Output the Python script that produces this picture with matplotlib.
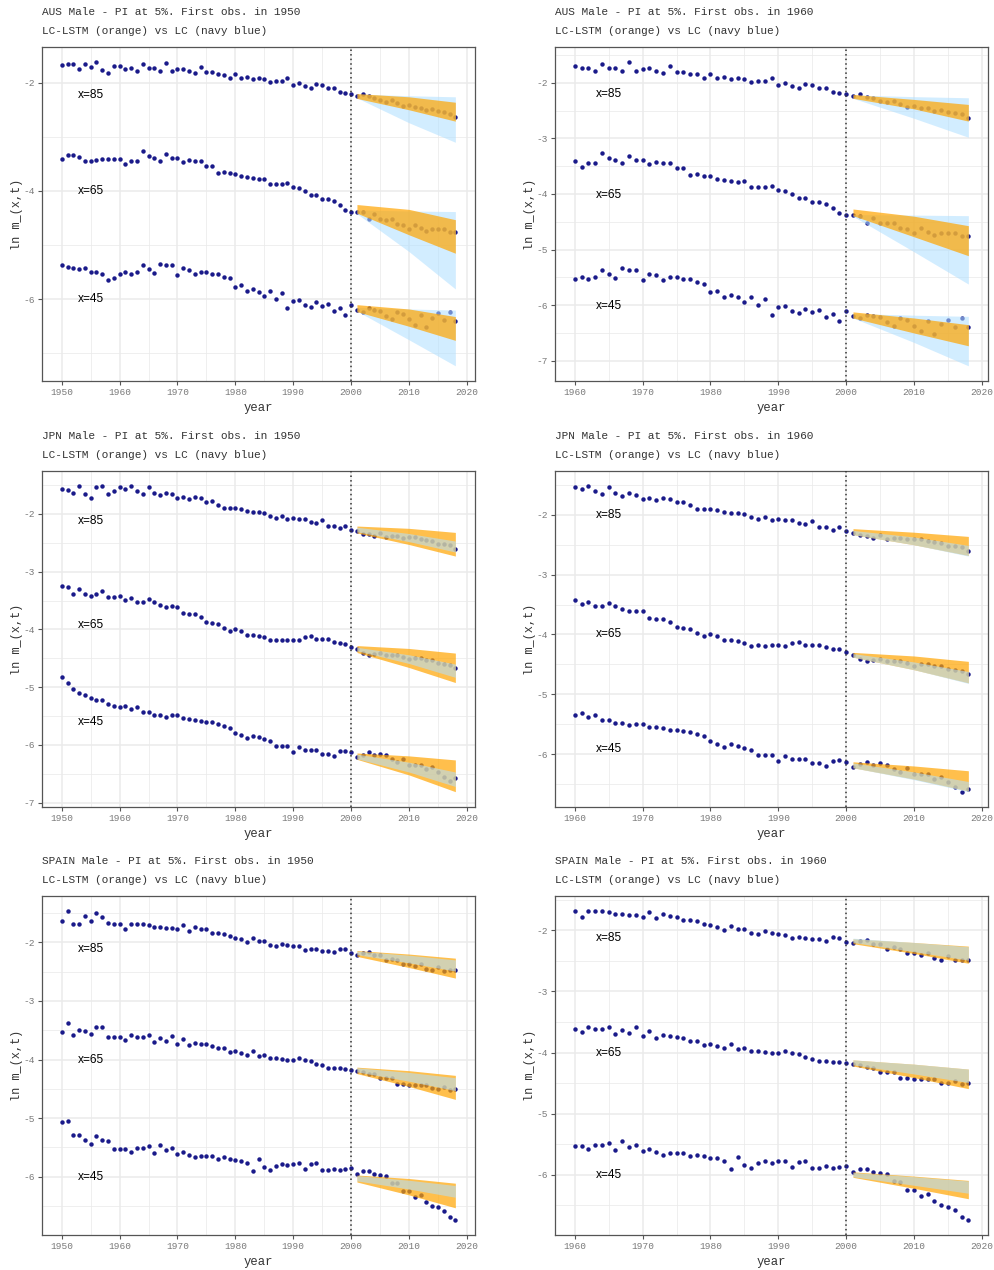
import numpy as np
import matplotlib
matplotlib.use("Agg")
import matplotlib.pyplot as plt
from matplotlib.ticker import MultipleLocator
from matplotlib import font_manager as fm

plt.rcParams['axes.unicode_minus'] = False

def pick(fams):
    for f in fams:
        try:
            fm.findfont(fm.FontProperties(family=f), fallback_to_default=False)
            return f
        except Exception:
            pass
    return 'DejaVu Sans'

MONO = pick(['Liberation Mono', 'DejaVu Sans Mono'])
NARROW = pick(['Liberation Sans Narrow', 'Liberation Sans', 'DejaVu Sans'])
LAB_SIZE = 10.4 if NARROW == 'Liberation Sans Narrow' else 8.6

# ---------------- data ----------------
years = np.arange(1950, 2019)
fc_years = [2001, 2010, 2018]
ages = ['x=85', 'x=65', 'x=45']

aus_85 = [-1.68, -1.65, -1.65, -1.74, -1.66, -1.70, -1.62, -1.76, -1.82, -1.69,
          -1.69, -1.74, -1.73, -1.79, -1.66, -1.73, -1.73, -1.79, -1.63, -1.79,
          -1.75, -1.74, -1.79, -1.82, -1.70, -1.80, -1.80, -1.84, -1.85, -1.91,
          -1.84, -1.92, -1.89, -1.93, -1.91, -1.93, -1.98, -1.96, -1.96, -1.92,
          -2.04, -2.00, -2.06, -2.09, -2.02, -2.04, -2.09, -2.10, -2.17, -2.19,
          -2.21, -2.24, -2.21, -2.25, -2.28, -2.32, -2.35, -2.32, -2.38, -2.43,
          -2.42, -2.45, -2.46, -2.51, -2.49, -2.53, -2.54, -2.57, -2.64]
aus_65 = [-3.41, -3.34, -3.34, -3.38, -3.44, -3.45, -3.42, -3.40, -3.40, -3.40,
          -3.40, -3.51, -3.44, -3.44, -3.26, -3.36, -3.39, -3.44, -3.31, -3.39,
          -3.39, -3.46, -3.43, -3.44, -3.45, -3.54, -3.54, -3.66, -3.64, -3.67,
          -3.68, -3.73, -3.74, -3.76, -3.78, -3.77, -3.87, -3.87, -3.88, -3.85,
          -3.92, -3.95, -4.00, -4.07, -4.07, -4.14, -4.15, -4.18, -4.25, -4.35,
          -4.38, -4.38, -4.39, -4.52, -4.43, -4.52, -4.53, -4.52, -4.61, -4.63,
          -4.71, -4.62, -4.69, -4.74, -4.70, -4.70, -4.70, -4.76, -4.76]
aus_45 = [-5.37, -5.41, -5.43, -5.44, -5.43, -5.49, -5.49, -5.54, -5.65, -5.60,
          -5.53, -5.49, -5.53, -5.50, -5.37, -5.44, -5.51, -5.34, -5.37, -5.37,
          -5.55, -5.43, -5.46, -5.54, -5.49, -5.50, -5.53, -5.53, -5.58, -5.61,
          -5.77, -5.74, -5.85, -5.81, -5.86, -5.94, -5.85, -6.00, -5.89, -6.17,
          -6.03, -6.01, -6.11, -6.14, -6.06, -6.13, -6.08, -6.22, -6.16, -6.29,
          -6.11, -6.20, -6.23, -6.17, -6.20, -6.21, -6.31, -6.37, -6.23, -6.27,
          -6.37, -6.47, -6.29, -6.51, -6.34, -6.26, -6.39, -6.23, -6.40]

jpn_85 = [-1.56, -1.58, -1.63, -1.52, -1.66, -1.73, -1.54, -1.52, -1.66, -1.61,
          -1.53, -1.56, -1.52, -1.60, -1.65, -1.54, -1.64, -1.68, -1.63, -1.66,
          -1.73, -1.71, -1.75, -1.71, -1.73, -1.79, -1.78, -1.84, -1.90, -1.90,
          -1.90, -1.91, -1.95, -1.97, -1.97, -1.99, -2.03, -2.07, -2.03, -2.09,
          -2.07, -2.08, -2.09, -2.14, -2.15, -2.11, -2.21, -2.21, -2.25, -2.21,
          -2.27, -2.30, -2.34, -2.35, -2.39, -2.33, -2.40, -2.39, -2.39, -2.41,
          -2.40, -2.40, -2.43, -2.46, -2.47, -2.52, -2.52, -2.53, -2.60]
jpn_65 = [-3.25, -3.27, -3.38, -3.30, -3.39, -3.43, -3.38, -3.34, -3.44, -3.44,
          -3.42, -3.49, -3.45, -3.52, -3.53, -3.48, -3.53, -3.58, -3.61, -3.60,
          -3.61, -3.72, -3.74, -3.74, -3.79, -3.87, -3.89, -3.91, -3.98, -4.03,
          -3.99, -4.03, -4.09, -4.09, -4.11, -4.14, -4.19, -4.18, -4.19, -4.18,
          -4.18, -4.19, -4.14, -4.12, -4.17, -4.17, -4.17, -4.21, -4.24, -4.25,
          -4.30, -4.34, -4.41, -4.44, -4.43, -4.41, -4.44, -4.44, -4.44, -4.48,
          -4.52, -4.49, -4.49, -4.53, -4.53, -4.58, -4.60, -4.61, -4.66]
jpn_45 = [-4.83, -4.93, -5.03, -5.10, -5.13, -5.19, -5.22, -5.22, -5.30, -5.33,
          -5.34, -5.32, -5.38, -5.35, -5.43, -5.43, -5.48, -5.48, -5.51, -5.49,
          -5.49, -5.54, -5.55, -5.57, -5.59, -5.60, -5.61, -5.63, -5.67, -5.70,
          -5.79, -5.83, -5.88, -5.84, -5.86, -5.90, -5.94, -6.02, -6.02, -6.02,
          -6.12, -6.04, -6.09, -6.08, -6.08, -6.15, -6.15, -6.20, -6.11, -6.10,
          -6.13, -6.21, -6.17, -6.13, -6.18, -6.15, -6.18, -6.25, -6.30, -6.24,
          -6.34, -6.34, -6.34, -6.42, -6.39, -6.47, -6.56, -6.63, -6.58]

spa_85 = [-1.63, -1.47, -1.68, -1.68, -1.55, -1.63, -1.50, -1.57, -1.67, -1.69,
          -1.69, -1.78, -1.69, -1.69, -1.69, -1.70, -1.73, -1.73, -1.75, -1.75,
          -1.78, -1.70, -1.80, -1.73, -1.77, -1.78, -1.84, -1.84, -1.85, -1.89,
          -1.92, -1.95, -2.00, -1.93, -1.98, -1.98, -2.05, -2.06, -2.02, -2.04,
          -2.06, -2.07, -2.13, -2.11, -2.12, -2.14, -2.15, -2.17, -2.11, -2.12,
          -2.19, -2.21, -2.18, -2.16, -2.22, -2.22, -2.30, -2.28, -2.30, -2.37,
          -2.37, -2.40, -2.37, -2.45, -2.48, -2.42, -2.49, -2.48, -2.48]
spa_65 = [-3.53, -3.38, -3.58, -3.50, -3.51, -3.57, -3.45, -3.45, -3.62, -3.62,
          -3.62, -3.67, -3.58, -3.61, -3.61, -3.58, -3.70, -3.63, -3.68, -3.59,
          -3.73, -3.65, -3.76, -3.71, -3.73, -3.74, -3.77, -3.81, -3.81, -3.87,
          -3.86, -3.89, -3.93, -3.86, -3.94, -3.93, -3.97, -3.97, -3.99, -4.00,
          -4.01, -3.98, -4.01, -4.02, -4.07, -4.10, -4.14, -4.14, -4.15, -4.16,
          -4.17, -4.19, -4.21, -4.24, -4.25, -4.32, -4.31, -4.32, -4.42, -4.42,
          -4.43, -4.44, -4.43, -4.44, -4.49, -4.50, -4.47, -4.52, -4.50]
spa_45 = [-5.06, -5.05, -5.29, -5.29, -5.38, -5.44, -5.31, -5.38, -5.39, -5.53,
          -5.52, -5.52, -5.57, -5.51, -5.51, -5.48, -5.59, -5.45, -5.55, -5.51,
          -5.61, -5.57, -5.63, -5.67, -5.65, -5.65, -5.65, -5.69, -5.67, -5.69,
          -5.72, -5.73, -5.77, -5.91, -5.70, -5.84, -5.88, -5.81, -5.78, -5.80,
          -5.78, -5.77, -5.87, -5.79, -5.77, -5.88, -5.88, -5.86, -5.88, -5.87,
          -5.85, -5.96, -5.91, -5.91, -5.96, -5.97, -5.99, -6.10, -6.11, -6.25,
          -6.25, -6.35, -6.31, -6.43, -6.50, -6.52, -6.58, -6.69, -6.73]

# prediction intervals at fc_years, rows = x=85, x=65, x=45
aus50_lstm_hi = [[-2.20, -2.26, -2.36], [-4.25, -4.34, -4.53], [-6.10, -6.18, -6.32]]
aus50_lstm_lo = [[-2.29, -2.50, -2.71], [-4.41, -4.81, -5.15], [-6.23, -6.50, -6.76]]
aus50_lc_hi = [[-2.21, -2.24, -2.26], [-4.35, -4.37, -4.38], [-6.15, -6.18, -6.20]]
aus50_lc_lo = [[-2.28, -2.74, -3.10], [-4.42, -5.12, -5.81], [-6.22, -6.75, -7.23]]

aus60_lstm_hi = [[-2.21, -2.30, -2.39], [-4.27, -4.40, -4.57], [-6.12, -6.23, -6.35]]
aus60_lstm_lo = [[-2.28, -2.47, -2.69], [-4.39, -4.77, -5.11], [-6.23, -6.50, -6.73]]
aus60_lc_hi = [[-2.22, -2.25, -2.27], [-4.37, -4.38, -4.39], [-6.15, -6.18, -6.20]]
aus60_lc_lo = [[-2.28, -2.64, -2.98], [-4.40, -5.04, -5.62], [-6.23, -6.67, -7.09]]

jpn50_lstm_hi = [[-2.21, -2.25, -2.32], [-4.28, -4.33, -4.41], [-6.14, -6.19, -6.26]]
jpn50_lstm_lo = [[-2.33, -2.53, -2.73], [-4.40, -4.66, -4.92], [-6.25, -6.52, -6.81]]
jpn50_lc_hi = [[-2.23, -2.34, -2.47], [-4.31, -4.44, -4.60], [-6.16, -6.30, -6.47]]
jpn50_lc_lo = [[-2.31, -2.48, -2.66], [-4.37, -4.59, -4.83], [-6.24, -6.47, -6.72]]

jpn60_lstm_hi = [[-2.23, -2.29, -2.36], [-4.30, -4.36, -4.45], [-6.13, -6.20, -6.28]]
jpn60_lstm_lo = [[-2.33, -2.50, -2.68], [-4.38, -4.59, -4.81], [-6.23, -6.42, -6.62]]
jpn60_lc_hi = [[-2.26, -2.37, -2.51], [-4.32, -4.46, -4.62], [-6.15, -6.30, -6.46]]
jpn60_lc_lo = [[-2.33, -2.50, -2.69], [-4.38, -4.59, -4.82], [-6.23, -6.43, -6.63]]

spa50_lstm_hi = [[-2.14, -2.20, -2.27], [-4.13, -4.19, -4.27], [-5.97, -6.03, -6.11]]
spa50_lstm_lo = [[-2.24, -2.43, -2.61], [-4.24, -4.46, -4.68], [-6.09, -6.31, -6.53]]
spa50_lc_hi = [[-2.15, -2.22, -2.30], [-4.14, -4.22, -4.31], [-5.98, -6.06, -6.15]]
spa50_lc_lo = [[-2.21, -2.35, -2.49], [-4.21, -4.37, -4.53], [-6.07, -6.21, -6.35]]

spa60_lstm_hi = [[-2.14, -2.20, -2.26], [-4.12, -4.19, -4.27], [-5.95, -6.02, -6.09]]
spa60_lstm_lo = [[-2.22, -2.38, -2.54], [-4.22, -4.41, -4.59], [-6.04, -6.22, -6.39]]
spa60_lc_hi = [[-2.13, -2.20, -2.27], [-4.12, -4.19, -4.27], [-5.96, -6.03, -6.10]]
spa60_lc_lo = [[-2.20, -2.35, -2.49], [-4.20, -4.35, -4.49], [-6.03, -6.17, -6.30]]

# label heights (data units) for "x=.." annotations
aus50_lab_y = [-2.22, -4.00, -6.00]
aus60_lab_y = [-2.21, -4.01, -6.01]
jpn50_lab_y = [-2.12, -3.93, -5.60]
jpn60_lab_y = [-2.01, -4.00, -5.91]
spa50_lab_y = [-2.11, -4.01, -6.00]
spa60_lab_y = [-2.12, -4.00, -6.00]

panels = [
    ('AUS', 1950, (aus_85, aus_65, aus_45), aus50_lstm_lo, aus50_lstm_hi, aus50_lc_lo, aus50_lc_hi, aus50_lab_y, 2),
    ('AUS', 1960, (aus_85, aus_65, aus_45), aus60_lstm_lo, aus60_lstm_hi, aus60_lc_lo, aus60_lc_hi, aus60_lab_y, 1),
    ('JPN', 1950, (jpn_85, jpn_65, jpn_45), jpn50_lstm_lo, jpn50_lstm_hi, jpn50_lc_lo, jpn50_lc_hi, jpn50_lab_y, 1),
    ('JPN', 1960, (jpn_85, jpn_65, jpn_45), jpn60_lstm_lo, jpn60_lstm_hi, jpn60_lc_lo, jpn60_lc_hi, jpn60_lab_y, 1),
    ('SPAIN', 1950, (spa_85, spa_65, spa_45), spa50_lstm_lo, spa50_lstm_hi, spa50_lc_lo, spa50_lc_hi, spa50_lab_y, 1),
    ('SPAIN', 1960, (spa_85, spa_65, spa_45), spa60_lstm_lo, spa60_lstm_hi, spa60_lc_lo, spa60_lc_hi, spa60_lab_y, 1),
]

# ---------------- style ----------------
NAVY = '#1a1a8a'
ORANGE = '#FFA500'
SKY = '#B1E0FF'
GRID = '#EBEBEB'
TXT = '#333333'
TICKTXT = '#7a7a7a'

fig = plt.figure(figsize=(9.94, 12.70), dpi=100)
col_left = [0.0423, 0.5584]
rows = [(0.700, 0.263), (0.3646, 0.2646), (0.0276, 0.267)]
W = 0.4356

for k, (cty, start, obs, lstm_lo, lstm_hi, lc_lo, lc_hi, lab_y, ystep) in enumerate(panels):
    r, c = divmod(k, 2)
    ax = fig.add_axes([col_left[c], rows[r][0], W, rows[r][1]])
    ax.set_axisbelow(True)
    mask = years >= start
    for s in obs:
        ax.plot(years[mask], np.asarray(s)[mask], 'o', ms=3.2, color=NAVY,
                mec='none', zorder=2)
    for i in range(3):
        w_lstm = np.sum(np.subtract(lstm_hi[i], lstm_lo[i]))
        w_lc = np.sum(np.subtract(lc_hi[i], lc_lo[i]))
        lc_z, lstm_z = (3, 4) if w_lc > w_lstm else (4, 3)
        ax.fill_between(fc_years, lc_lo[i], lc_hi[i], color=SKY, alpha=0.57,
                        lw=0, zorder=lc_z)
        ax.fill_between(fc_years, lstm_lo[i], lstm_hi[i], color=ORANGE, alpha=0.7,
                        lw=0, zorder=lstm_z)
        ax.text(start + 5.1, lab_y[i], ages[i], family=NARROW, fontsize=LAB_SIZE,
                ha='center', va='center', color='black', zorder=6)
    ax.axvline(2000, color='#333333', lw=1.1, ls=(0, (1, 2)), zorder=5)

    ax.xaxis.set_major_locator(MultipleLocator(10))
    ax.xaxis.set_minor_locator(MultipleLocator(5))
    ax.yaxis.set_major_locator(MultipleLocator(ystep))
    ax.yaxis.set_minor_locator(MultipleLocator(ystep / 2))
    ax.grid(which='major', color=GRID, lw=1.1)
    ax.grid(which='minor', color=GRID, lw=0.55)
    ax.tick_params(which='minor', length=0)
    ax.tick_params(which='major', length=3, width=0.8, color='#555555',
                   labelcolor=TICKTXT, labelsize=6.8, pad=2)
    for lab in ax.get_xticklabels() + ax.get_yticklabels():
        lab.set_family(MONO)
    for sp in ax.spines.values():
        sp.set_color('#555555')
        sp.set_linewidth(0.9)

    ax.set_xlabel('year', family=MONO, fontsize=8.8, color=TXT, labelpad=3.5)
    ax.set_ylabel('ln m_(x,t)', family=MONO, fontsize=8.6, color=TXT, labelpad=0.5)
    ax.annotate(f'{cty} Male - PI at 5%. First obs. in {start}', xy=(0, 1),
                xycoords='axes fraction', xytext=(0, 25.2), textcoords='offset points',
                ha='left', va='center', family=MONO, fontsize=8.0, color=TXT)
    ax.annotate('LC-LSTM (orange) vs LC (navy blue)', xy=(0, 1),
                xycoords='axes fraction', xytext=(0, 11.5), textcoords='offset points',
                ha='left', va='center', family=MONO, fontsize=8.0, color=TXT)

fig.savefig('out.png', dpi=100)
